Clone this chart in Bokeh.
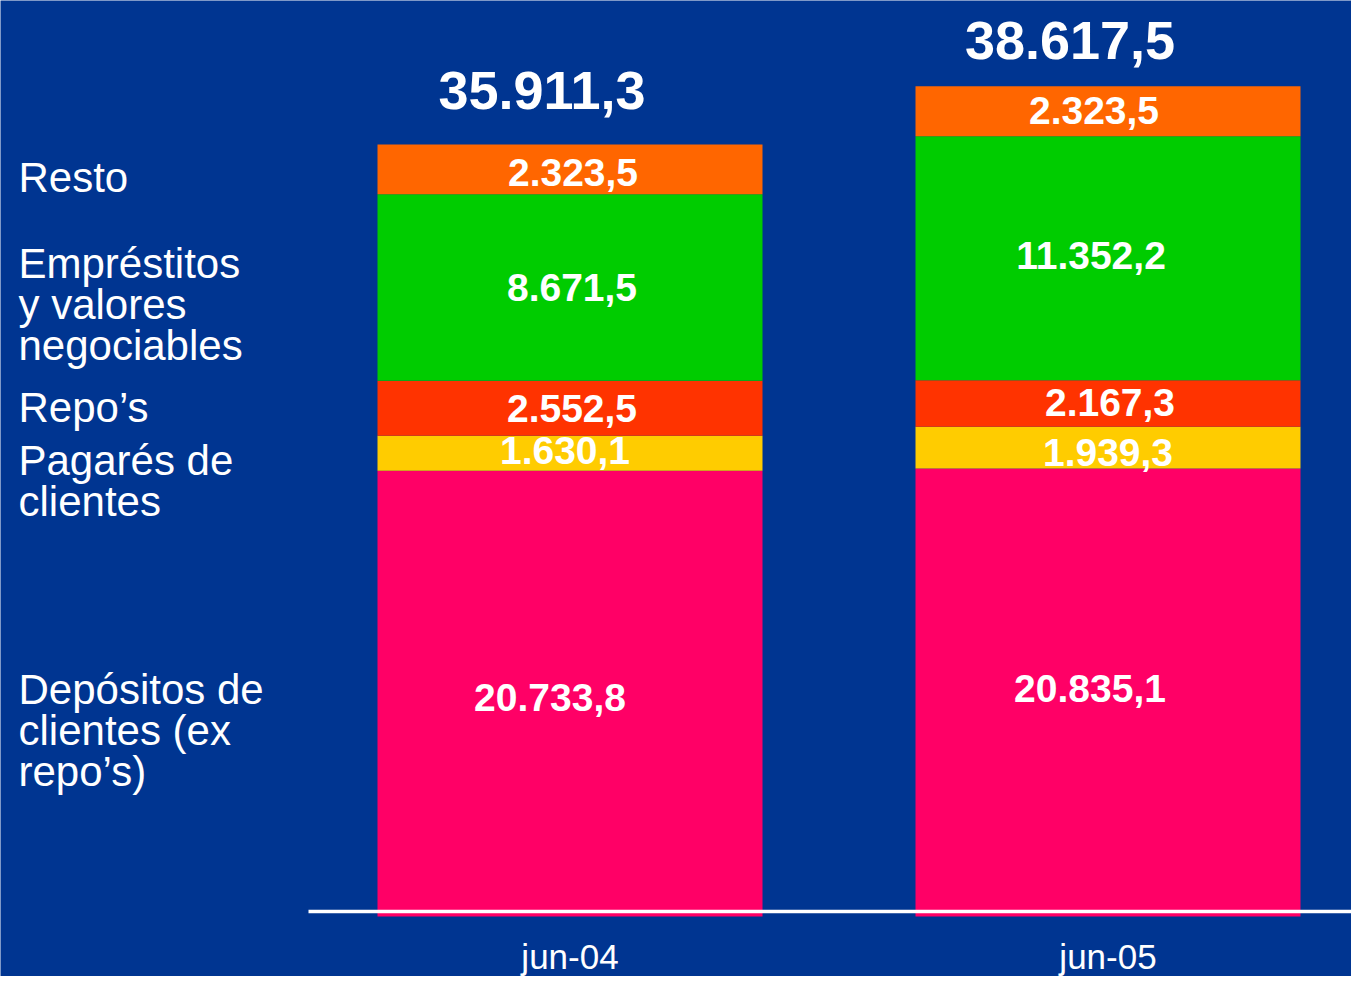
from bokeh.plotting import figure
from bokeh.models import ColumnDataSource, Range1d
from bokeh.core.properties import value
from bokeh.embed import file_html
from bokeh.resources import INLINE

# ---- data ----
periods = ["jun-04", "jun-05"]
series = ["Depósitos de clientes (ex repo’s)", "Pagarés de clientes", "Repo’s",
          "Empréstitos y valores negociables", "Resto"]
legend_text = ["Depósitos de\nclientes (ex\nrepo’s)", "Pagarés de\nclientes", "Repo’s",
               "Empréstitos\ny valores\nnegociables", "Resto"]
depositos = [20733.8, 20835.1]
pagares = [1630.1, 1939.3]
repos = [2552.5, 2167.3]
emprestitos = [8671.5, 11352.2]
resto = [2323.5, 2323.5]
totals = [35911.3, 38617.5]

colors = ["#FF0066", "#FFCC00", "#FF3300", "#00CC00", "#FF6600"]
BG = "#003591"
FONT = value("Liberation Sans")

def fmt(v):
    s = f"{v:,.1f}"
    return s.replace(",", "X").replace(".", ",").replace("X", ".")

W, H = 1351, 976
px_per_unit_x = 538.0
px_per_1000 = 21.5
x0_px = 569.5      # screen x of first category
zero_px = 916.0    # screen y of value 0
x_start = -x0_px / px_per_unit_x
x_end = (W - x0_px) / px_per_unit_x
y_end = zero_px / px_per_1000 * 1000
y_start = -(H - zero_px) / px_per_1000 * 1000

p = figure(width=W, height=H, output_backend="svg", toolbar_location=None,
           x_range=Range1d(x_start, x_end), y_range=Range1d(y_start, y_end),
           min_border=0, background_fill_color=BG, border_fill_color=BG,
           outline_line_color=None)
p.axis.visible = False
p.grid.visible = False

xs = list(range(len(periods)))
stack = [depositos, pagares, repos, emprestitos, resto]
bar_w = 385 / px_per_unit_x

bottoms = [0.0] * len(periods)
lab_x, lab_y, lab_t, lab_dx = [], [], [], []
seg_dx = [[-20, -18], [-5, 0], [2, 2], [2, -17], [3, -14]]
seg_dy = [[4, -4], [-3, 5], [0, -1], [0, -3], [3, -1]]
lab_dy = []
for si, vals in enumerate(stack):
    tops = [b + v for b, v in zip(bottoms, vals)]
    src = ColumnDataSource(dict(x=xs, bottom=bottoms, top=tops))
    p.vbar(x="x", bottom="bottom", top="top", width=bar_w, source=src,
           fill_color=colors[si], line_color=None)
    for i in range(len(periods)):
        lab_x.append(xs[i])
        lab_y.append((bottoms[i] + tops[i]) / 2)
        lab_t.append(fmt(vals[i]))
        lab_dx.append(seg_dx[si][i])
        lab_dy.append(seg_dy[si][i])
    bottoms = tops

# baseline (axis line)
axis_y = 5 / px_per_1000 * 1000
p.segment(x0=[x_start + 308 / px_per_unit_x], x1=[x_end], y0=[axis_y], y1=[axis_y],
          line_color="white", line_width=3.5)

# segment labels
p.text(x="x", y="y", text="t", x_offset="dx", y_offset="dy",
       source=ColumnDataSource(dict(x=lab_x, y=lab_y, t=lab_t, dx=lab_dx, dy=lab_dy)),
       text_color="white", text_font=FONT, text_font_style="bold",
       text_font_size="39px", text_align="center", text_baseline="middle")

# totals
p.text(x=xs, y=totals, text=[fmt(t) for t in totals], x_offset=[-28, -38], y_offset=[-54, -46],
       text_color="white", text_font=FONT, text_font_style="bold",
       text_font_size="54px", text_align="center", text_baseline="middle")

# category labels
p.text(x=xs, y=[0, 0], text=periods, y_offset=[40, 40],
       text_color="white", text_font=FONT, text_font_size="35px",
       text_align="center", text_baseline="middle")

# series labels on the left
legend_y = [8651, 20256, 23674, 28465, 34372]
p.text(x=[x_start + 18 / px_per_unit_x] * len(series), y=legend_y, text=legend_text,
       text_color="white", text_font=FONT, text_font_size="42px",
       text_align="left", text_baseline="middle", text_line_height=0.87)

open("out.html", "w").write(file_html(p, INLINE))
